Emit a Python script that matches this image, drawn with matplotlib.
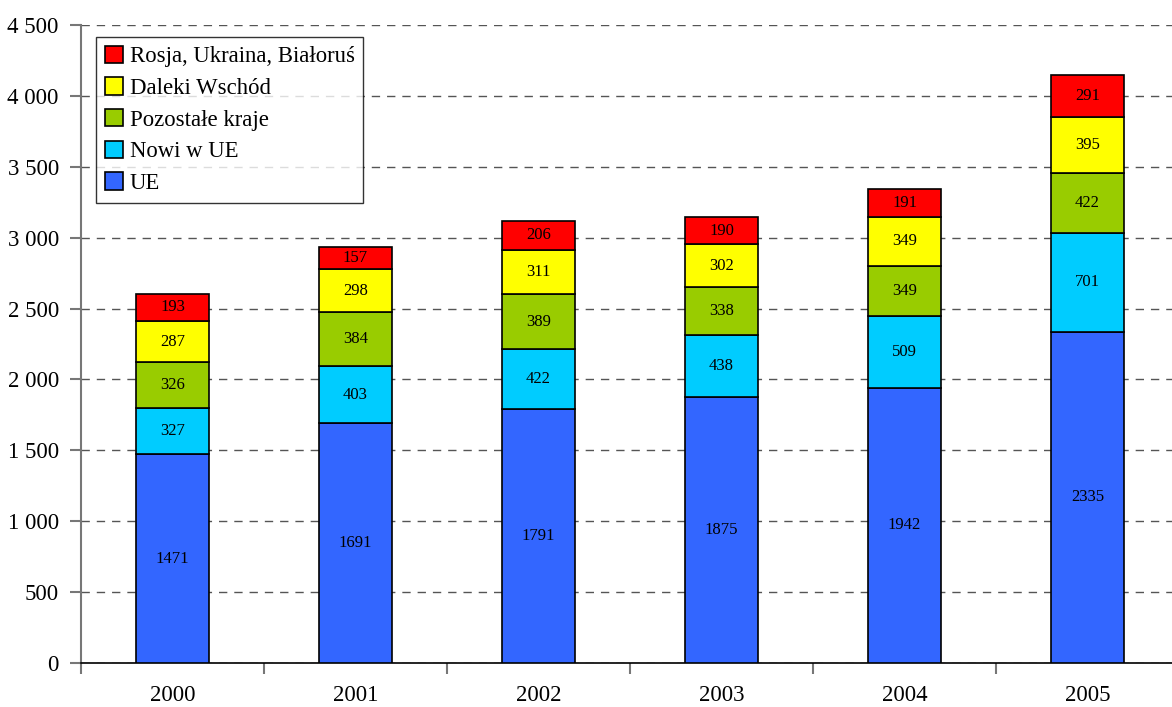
import matplotlib
matplotlib.use("Agg")
import matplotlib.pyplot as plt
import numpy as np

years = ["2000", "2001", "2002", "2003", "2004", "2005"]
ue = [1471, 1691, 1791, 1875, 1942, 2335]
nowi_ue = [327, 403, 422, 438, 509, 701]
pozostale = [326, 384, 389, 338, 349, 422]
daleki_wschod = [287, 298, 311, 302, 349, 395]
rosja = [193, 157, 206, 190, 191, 291]

series = [
    ("UE", ue, "#3366FF"),
    ("Nowi w UE", nowi_ue, "#00CCFF"),
    ("Pozostałe kraje", pozostale, "#99CC00"),
    ("Daleki Wschód", daleki_wschod, "#FFFF00"),
    ("Rosja, Ukraina, Białoruś", rosja, "#FF0000"),
]

plt.rcParams["font.family"] = ["Liberation Serif", "DejaVu Serif"]

fig = plt.figure(figsize=(11.72, 7.07), dpi=100)
ax = fig.add_axes([81 / 1172, 1 - 663 / 707, 1098 / 1172, 638 / 707])

x = np.arange(len(years))
bottom = np.zeros(len(years))
handles = []
for name, vals, color in series:
    vals = np.array(vals, dtype=float)
    bars = ax.bar(x, vals, 0.4, bottom=bottom, color=color,
                  edgecolor="black", linewidth=1.2, label=name, zorder=3)
    for xi, b, v in zip(x, bottom, vals):
        ax.text(xi, b + v / 2, f"{int(v)}", ha="center", va="center",
                fontsize=12, zorder=4)
    bottom += vals
    handles.append(bars)

ax.set_xlim(-0.5, 5.5)
ax.set_ylim(0, 4500)
ax.set_yticks(np.arange(0, 4501, 500))
ax.set_yticklabels([f"{v:,}".replace(",", " ") for v in range(0, 4501, 500)],
                   fontsize=16.5)
ax.yaxis.grid(True, linestyle=(0, (6, 5)), color="#555555", linewidth=1.0, zorder=0)
ax.set_axisbelow(True)

ax.set_xticks(x)
ax.set_xticklabels(years, fontsize=16.5)
ax.set_xticks(np.arange(-0.5, 6.0, 1.0), minor=True)
ax.tick_params(axis="x", which="major", length=0, pad=16)
ax.tick_params(axis="x", which="minor", length=8, color="#777777", width=1.5)
ax.tick_params(axis="y", length=8, color="#777777", width=1.5, pad=8)

for s in ("top", "right"):
    ax.spines[s].set_visible(False)
ax.spines["left"].set_color("#777777")
ax.spines["left"].set_linewidth(1.5)
ax.spines["bottom"].set_color("black")
ax.spines["bottom"].set_linewidth(1.2)

leg = ax.legend(handles=handles[::-1], loc="upper left",
                bbox_to_anchor=(15 / 1098, 1 - 12 / 638),
                fontsize=16.4, frameon=True, fancybox=False, edgecolor="black",
                handlelength=0.8, handleheight=0.8, handletextpad=0.3,
                labelspacing=0.44, borderpad=0.38, borderaxespad=0)
leg.get_frame().set_linewidth(1.0)
leg.set_zorder(5)

fig.savefig("out.png", dpi=100, facecolor="white")
